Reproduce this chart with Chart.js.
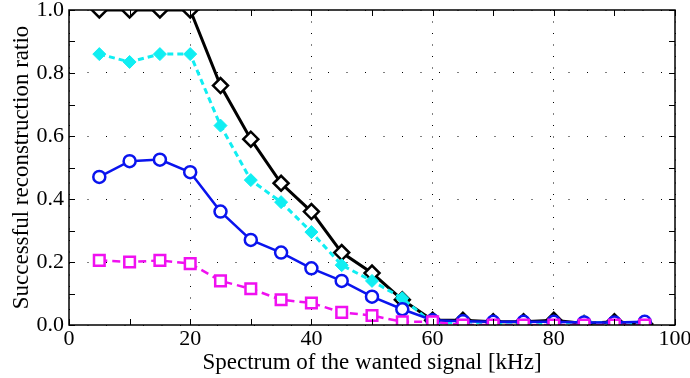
<!DOCTYPE html>
<html><head><meta charset="utf-8">
<script src="https://cdn.jsdelivr.net/npm/chart.js@4.4.1/dist/chart.umd.min.js"></script>
<style>html,body{margin:0;padding:0;background:#fff}#wrap{width:690px;height:378px}</style>
</head><body><div id="wrap"><canvas id="c" width="690" height="378"></canvas></div>
<script>
const freqs = [5,10,15,20,25,30,35,40,45,50,55,60,65,70,75,80,85,90,95];
const blackSeries = [1,1,1,1,0.76,0.59,0.45,0.36,0.23,0.165,0.08,0.015,0.015,0.01,0.01,0.015,0.005,0.01,0.003];
const cyanSeries = [0.86,0.835,0.86,0.86,0.633,0.46,0.39,0.295,0.19,0.14,0.085,0.005,0.01,0.005,0.005,0.005,0.01,0.005,0.005];
const blueSeries = [0.47,0.52,0.525,0.485,0.36,0.27,0.23,0.18,0.14,0.09,0.05,0.015,0.012,0.01,0.01,0.01,0.008,0.008,0.01];
const magentaSeries = [0.205,0.2,0.205,0.195,0.14,0.115,0.08,0.07,0.04,0.03,0.01,0.01,0,0,0,0,0,0,0];
const xTicks = [0,20,40,60,80,100];
const yTicks = [0,0.2,0.4,0.6,0.8,1.0];
const xTickMarks = [0,10,20,30,40,50,60,70,80,90,100];
const yTickMarks = [0,0.1,0.2,0.3,0.4,0.5,0.6,0.7,0.8,0.9,1.0];
const xTitle = 'Spectrum of the wanted signal [kHz]';
const yTitle = 'Successful reconstruction ratio';

const pts = arr => arr.map((v,i)=>({x:freqs[i],y:v}));
const FONT = 'Liberation Serif';

const boxPlugin = {
  id:'box',
  afterDraw(chart){
    const {ctx, chartArea:a, scales:{x,y}} = chart;
    ctx.save();
    ctx.strokeStyle='#000'; ctx.lineWidth=1.5;
    ctx.strokeRect(a.left, a.top, a.right-a.left, a.bottom-a.top);
    ctx.lineWidth=1;
    const tl=6;
    ctx.beginPath();
    xTickMarks.forEach(v=>{const px=Math.round(x.getPixelForValue(v))+0.5;
      ctx.moveTo(px,a.bottom); ctx.lineTo(px,a.bottom-tl);
      ctx.moveTo(px,a.top); ctx.lineTo(px,a.top+tl);});
    yTickMarks.forEach(v=>{const py=Math.round(y.getPixelForValue(v))+0.5;
      ctx.moveTo(a.left,py); ctx.lineTo(a.left+tl,py);
      ctx.moveTo(a.right,py); ctx.lineTo(a.right-tl,py);});
    ctx.stroke();
    ctx.restore();
  }
};

new Chart(document.getElementById('c'), {
  type:'line',
  data:{datasets:[
    {data:pts(blackSeries), borderColor:'#000', borderWidth:3, pointStyle:'rectRot', pointRadius:7.5, pointBorderWidth:2.5, pointBorderColor:'#000', pointBackgroundColor:'#fff', order:4},
    {data:pts(cyanSeries), borderColor:'#10eef2', borderWidth:3, borderDash:[6,4], pointStyle:'rectRot', pointRadius:6.5, pointBorderWidth:1, pointBorderColor:'#10eef2', pointBackgroundColor:'#10eef2', order:3},
    {data:pts(blueSeries), borderColor:'#0a14ee', borderWidth:2.5, pointStyle:'circle', pointRadius:6, pointBorderWidth:2.5, pointBorderColor:'#0a14ee', pointBackgroundColor:'#fff', order:2},
    {data:pts(magentaSeries), borderColor:'#f010f0', borderWidth:2.5, borderDash:[8,5], pointStyle:'rect', pointRadius:7.5, pointBorderWidth:2.5, pointBorderColor:'#f010f0', pointBackgroundColor:'#fff', order:1}
  ]},
  options:{
    responsive:false, animation:false, devicePixelRatio:1,
    layout:{padding:{left:0,right:15,top:9,bottom:0}},
    plugins:{legend:{display:false},tooltip:{enabled:false}},
    elements:{line:{tension:0}},
    scales:{
      x:{type:'linear', min:0, max:100,
        afterBuildTicks(s){s.ticks=xTicks.map(v=>({value:v}));},
        afterFit(s){s.height=53; s.paddingLeft=0; s.paddingRight=0;},
        ticks:{font:{family:FONT,size:22},color:'#000',padding:1,maxRotation:0},
        grid:{color:'#000',lineWidth:1,drawTicks:false},
        border:{display:false,dash:[1,10.5]},
        title:{display:true,text:xTitle,font:{family:FONT,size:23},color:'#000',padding:{top:0,bottom:1}}
      },
      y:{min:0,max:1,
        afterBuildTicks(s){s.ticks=yTicks.map(v=>({value:v}));},
        afterFit(s){s.width=69; s.paddingTop=0; s.paddingBottom=0;},
        ticks:{font:{family:FONT,size:22},color:'#000',padding:5,callback:v=>Number(v).toFixed(1)},
        grid:{color:'#000',lineWidth:1,drawTicks:false},
        border:{display:false,dash:[1,17.5]},
        title:{display:true,text:yTitle,font:{family:FONT,size:23},color:'#000',padding:{top:8,bottom:4}}
      }
    }
  },
  plugins:[boxPlugin]
});
</script></body></html>
